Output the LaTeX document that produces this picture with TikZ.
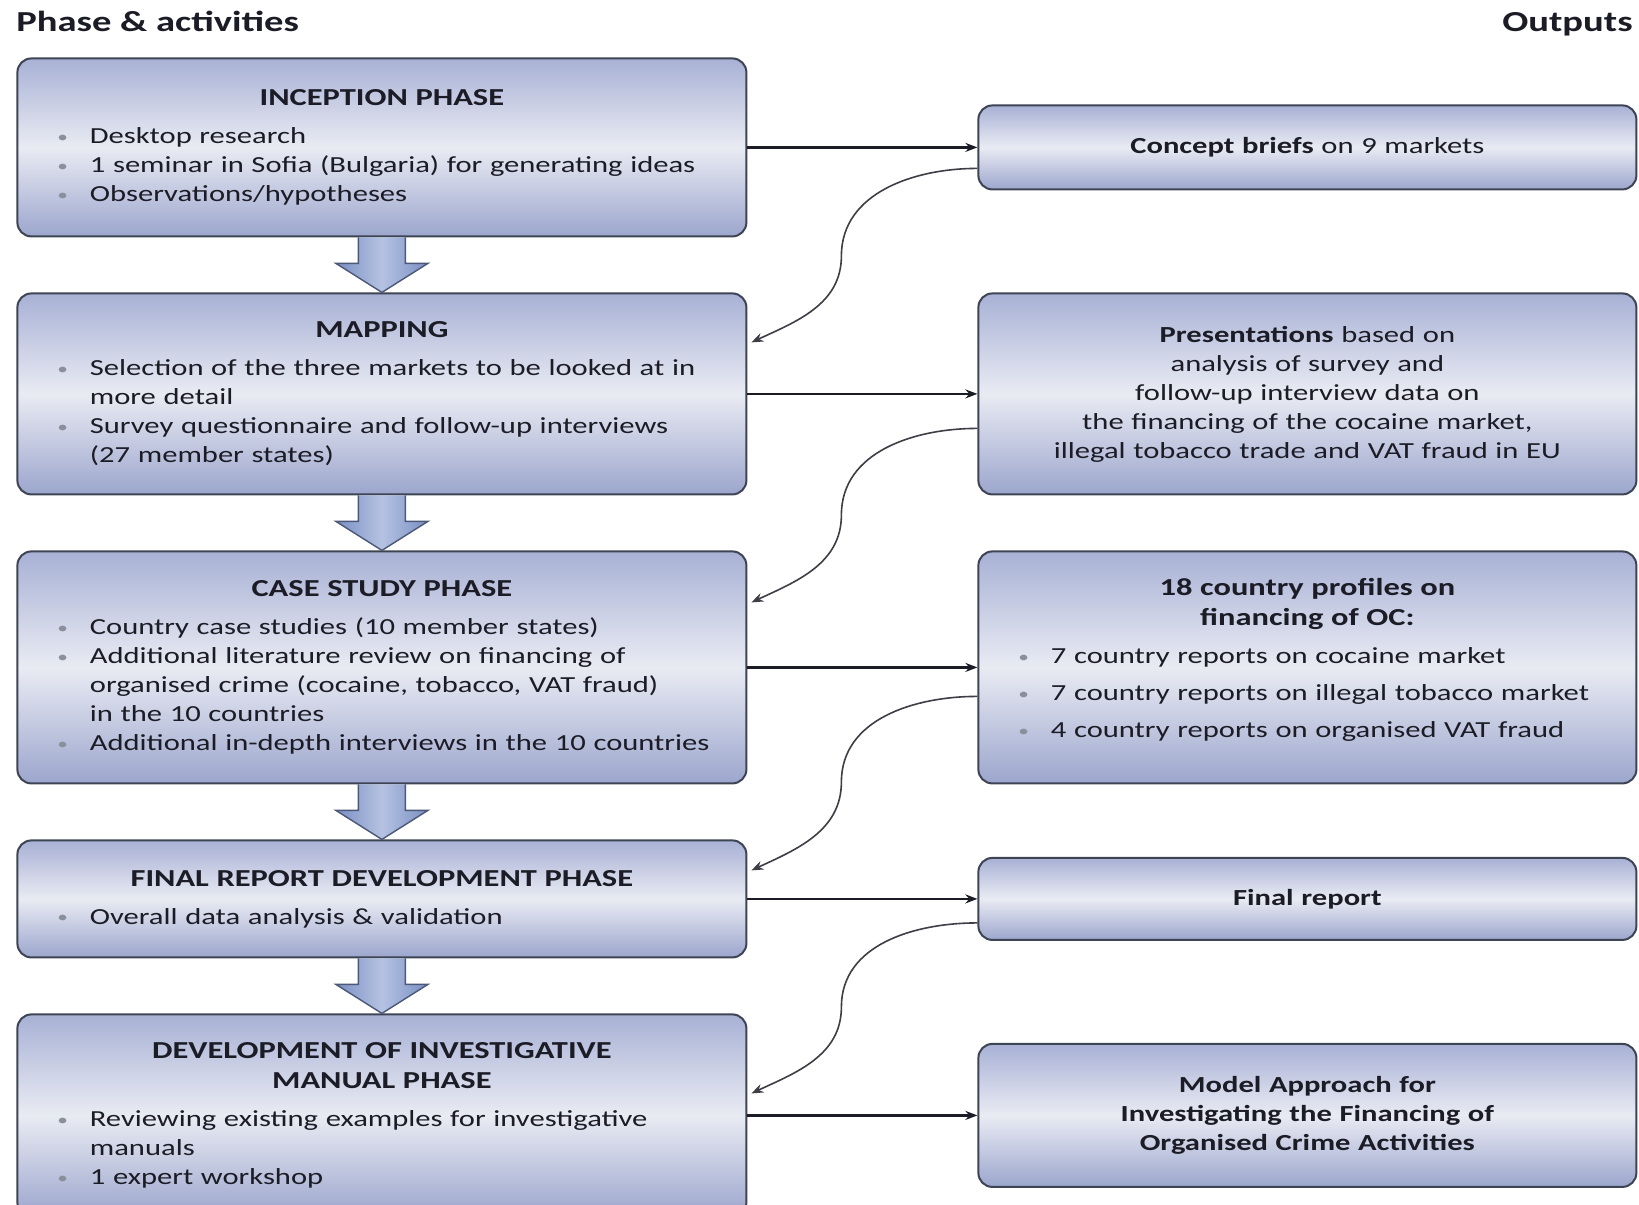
\documentclass[tikz,border=0pt]{standalone}
\usepackage{fontspec}
\setmainfont{Carlito}[FakeStretch=1.33]
\usepackage{tikz}
\usetikzlibrary{matrix}
\usetikzlibrary{calc}
\usetikzlibrary{arrows.meta}

\definecolor{boxline}{HTML}{3D4454}
\definecolor{boxtop}{HTML}{A8B1D5}
\definecolor{boxmid}{HTML}{E9EBF3}
\definecolor{boxbot}{HTML}{9CA6CD}
\definecolor{arrowblue}{HTML}{7A8FC3}
\definecolor{arrowlight}{HTML}{B5C2E2}
\definecolor{arrowline}{HTML}{4B5877}
\definecolor{textcol}{HTML}{1C1C26}
\definecolor{dotgray}{HTML}{8A8F9C}

\newcommand{\phasehead}[1]{{\centering\fontsize{12.2}{15}\selectfont\bfseries #1\par}\vspace{4.5pt}}
\newcommand{\pitem}[1]{\par\noindent\hangindent=16.2pt\hangafter=1\leftskip=2.8pt%
  \makebox[16.2pt][l]{\raisebox{0.6pt}{\textcolor{dotgray}{\fontsize{8}{8}\selectfont\textbullet}}}#1\par}

\begin{document}
\begin{tikzpicture}[>={Stealth[length=6pt,width=4.5pt]},
	phase/.style={draw=boxline,line width=1pt,rounded corners=7pt,
		top color=boxtop,bottom color=boxbot,middle color=boxmid,
		anchor=center,text width=330pt,inner xsep=17.25pt,inner ysep=4pt,
		align=left,text=textcol,font=\fontsize{11.5}{14.5}\selectfont},
	output/.style={phase,text width=294.5pt,align=center},
	titletext/.style={text=textcol,inner sep=0pt,font=\fontsize{14.5}{17}\selectfont\bfseries},
	flow/.style={draw=textcol,line width=1.1pt},
	back/.style={draw=textcol!85,line width=0.8pt},
	downarrow/.style={draw=arrowline,line width=0.7pt,left color=arrowblue,right color=arrowblue,middle color=arrowlight}
	]
	\useasboundingbox (0,0) rectangle (819.5pt,-602.5pt);
	\fill[white] (0,0) rectangle (819.5pt,-602.5pt);

	\node[titletext,anchor=base west] (phasetitle) at (8pt,-15.5pt) {Phase \& activities};
	\node[titletext,anchor=base east] (outtitle) at (816.5pt,-15.5pt) {Outputs};

	\matrix (tree) [%
	matrix of nodes,
	anchor=north west,
	inner sep=0pt,
	column sep=115pt,
	row sep=27.5pt,ampersand replacement=\&
	] at (8pt,-28.5pt)
	{
		|[phase,minimum height=89pt]| {\phasehead{INCEPTION PHASE}\pitem{Desktop research}\pitem{1 seminar in Sofia (Bulgaria) for generating ideas}\pitem{Observations/hypotheses}}
		\& |[output,minimum height=42pt]| {\textbf{Concept briefs} on 9 markets} \\
		|[phase,minimum height=100.5pt]| {\phasehead{MAPPING}\pitem{Selection of the three markets to be looked at in\newline more detail}\pitem{Survey questionnaire and follow-up interviews\newline (27 member states)}}
		\& |[output,minimum height=100.5pt]| {\textbf{Presentations} based on\par analysis of survey and\par follow-up interview data on\par the financing of the cocaine market,\par illegal tobacco trade and VAT fraud in EU\par} \\
		|[phase,minimum height=116pt]| {\phasehead{CASE STUDY PHASE}\pitem{Country case studies (10 member states)}\pitem{Additional literature review on financing of\newline organised crime (cocaine, tobacco, VAT fraud)\newline in the 10 countries}\pitem{Additional in-depth interviews in the 10 countries}}
		\& |[output,align=left,minimum height=116pt]| {\phasehead{18 country profiles on\par financing of OC:}\vspace{-4pt}\fontsize{11.5}{18.5}\selectfont\pitem{7 country reports on cocaine market}\pitem{7 country reports on illegal tobacco market}\pitem{4 country reports on organised VAT fraud}\vspace{7.3pt}} \\
		|[phase,minimum height=58.5pt]| {\phasehead{FINAL REPORT DEVELOPMENT PHASE}\pitem{Overall data analysis {\char38} validation}}
		\& |[output,minimum height=41pt]| {\textbf{Final report}} \\
		|[phase,minimum height=101pt]| {\phasehead{DEVELOPMENT OF INVESTIGATIVE\par MANUAL PHASE}\pitem{Reviewing existing examples for investigative\newline manuals}\pitem{1 expert workshop}}
		\& |[output,minimum height=71.5pt]| {{\bfseries Model Approach for\par Investigating the Financing of\par Organised Crime Activities\par}} \\
	};

	% phase to phase
	\draw[downarrow] ($(tree-1-1.south)+(-11.75pt,0)$) -- ++(0,-13pt) -- ++(-11.25pt,0) -- (tree-2-1.north) -- ($(tree-1-1.south)+(23pt,-13pt)$) -- ++(-11.25pt,0) -- ($(tree-1-1.south)+(11.75pt,0)$);
	\draw[downarrow] ($(tree-2-1.south)+(-11.75pt,0)$) -- ++(0,-13pt) -- ++(-11.25pt,0) -- (tree-3-1.north) -- ($(tree-2-1.south)+(23pt,-13pt)$) -- ++(-11.25pt,0) -- ($(tree-2-1.south)+(11.75pt,0)$);
	\draw[downarrow] ($(tree-3-1.south)+(-11.75pt,0)$) -- ++(0,-13pt) -- ++(-11.25pt,0) -- (tree-4-1.north) -- ($(tree-3-1.south)+(23pt,-13pt)$) -- ++(-11.25pt,0) -- ($(tree-3-1.south)+(11.75pt,0)$);
	\draw[downarrow] ($(tree-4-1.south)+(-11.75pt,0)$) -- ++(0,-13pt) -- ++(-11.25pt,0) -- (tree-5-1.north) -- ($(tree-4-1.south)+(23pt,-13pt)$) -- ++(-11.25pt,0) -- ($(tree-4-1.south)+(11.75pt,0)$);

	% phase to output
	\draw[flow,->] (tree-1-1.east) -- (tree-1-1.east -| tree-1-2.west);
	\draw[flow,->] (tree-2-1.east) -- (tree-2-1.east -| tree-2-2.west);
	\draw[flow,->] (tree-3-1.east) -- (tree-3-1.east -| tree-3-2.west);
	\draw[flow,->] (tree-4-1.east) -- (tree-4-1.east -| tree-4-2.west);
	\draw[flow,->] (tree-5-1.east) -- (tree-5-1.east -| tree-5-2.west);

	% output back into next phase
	\draw[back,->] ($(tree-1-2.west)+(0,-10.5pt)$) to[out=180,in=90] ($(tree-1-1.east)+(47pt,-54.25pt)$) to[out=-90,in=25] ($(tree-2-1.east)+(2pt,25.75pt)$);
	\draw[back,->] ($(tree-2-2.west)+(0,-17.25pt)$) to[out=180,in=90] ($(tree-2-1.east)+(47pt,-60.5pt)$) to[out=-90,in=25] ($(tree-3-1.east)+(2pt,32.5pt)$);
	\draw[back,->] ($(tree-3-2.west)+(0,-14.5pt)$) to[out=180,in=90] ($(tree-3-1.east)+(47pt,-57.25pt)$) to[out=-90,in=25] ($(tree-4-1.east)+(2pt,14.25pt)$);
	\draw[back,->] ($(tree-4-2.west)+(0,-12pt)$) to[out=180,in=90] ($(tree-4-1.east)+(47pt,-54pt)$) to[out=-90,in=25] ($(tree-5-1.east)+(2pt,11pt)$);
\end{tikzpicture}
\end{document}
